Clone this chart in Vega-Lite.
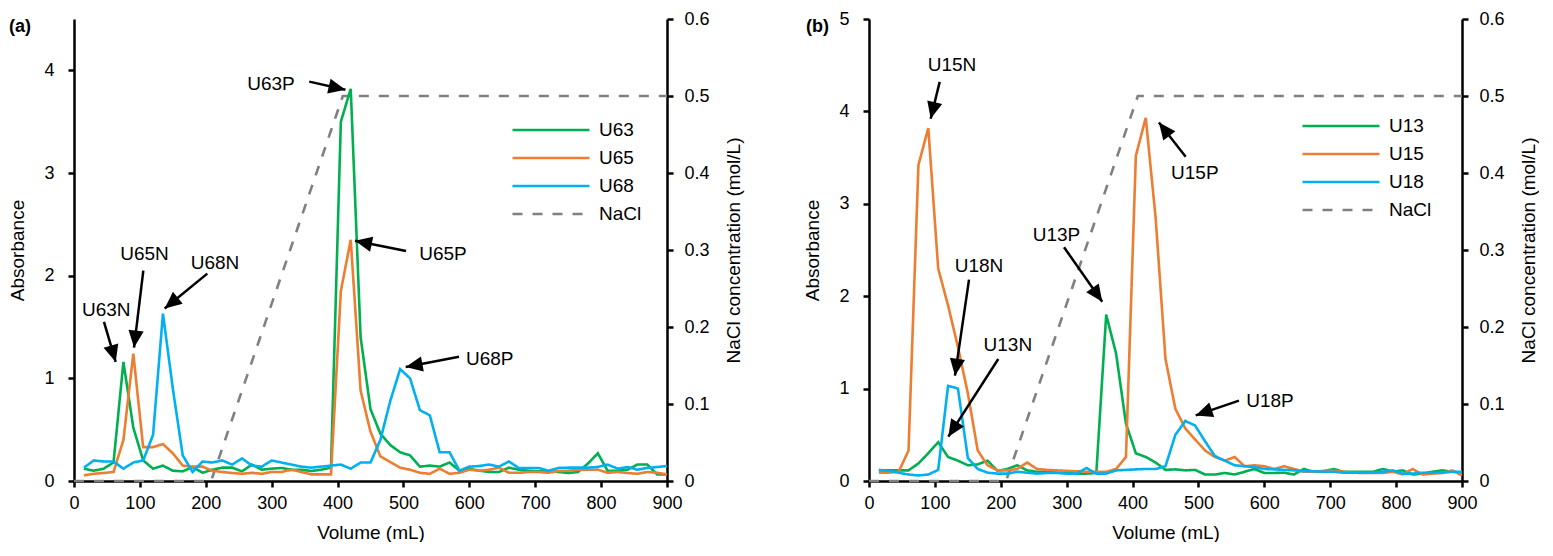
{
  "$schema": "https://vega.github.io/schema/vega-lite/v6.json",
  "background": "white",
  "padding": {"left": 8, "top": 10, "right": 0, "bottom": 0},
  "bounds": "flush",
  "spacing": 202,
  "config": {
    "font": "Liberation Sans",
    "view": {"stroke": null},
    "axis": {
      "grid": false, "domainColor": "black", "domainWidth": 2.5,
      "tickColor": "black", "tickWidth": 2.5, "tickSize": 6,
      "labelFontSize": 18, "labelColor": "black", "labelFlush": false,
      "titleFontSize": 19, "titleFontWeight": "normal", "titleColor": "black"
    },
    "axisX": {"labelPadding": 7, "titlePadding": 11},
    "axisLeft": {"labelPadding": 14, "titlePadding": 16},
    "axisRight": {"labelPadding": 11, "titlePadding": 15, "titleAngle": -90, "titleBaseline": "top"},
    "text": {"font": "Liberation Sans", "fontSize": 19, "color": "black"}
  },
  "datasets": {
    "a": [
      {"v": 15, "U63": 0.12, "U65": 0.055, "U68": 0.13},
      {"v": 30, "U63": 0.10, "U65": 0.07, "U68": 0.20},
      {"v": 45, "U63": 0.12, "U65": 0.078, "U68": 0.19},
      {"v": 60, "U63": 0.18, "U65": 0.088, "U68": 0.19},
      {"v": 75, "U63": 1.16, "U65": 0.40, "U68": 0.12},
      {"v": 90, "U63": 0.52, "U65": 1.24, "U68": 0.18},
      {"v": 105, "U63": 0.20, "U65": 0.33, "U68": 0.20},
      {"v": 120, "U63": 0.12, "U65": 0.33, "U68": 0.45},
      {"v": 135, "U63": 0.15, "U65": 0.36, "U68": 1.63},
      {"v": 150, "U63": 0.10, "U65": 0.27, "U68": 0.90},
      {"v": 165, "U63": 0.094, "U65": 0.15, "U68": 0.25},
      {"v": 180, "U63": 0.136, "U65": 0.14, "U68": 0.088},
      {"v": 195, "U63": 0.08, "U65": 0.14, "U68": 0.19},
      {"v": 210, "U63": 0.11, "U65": 0.10, "U68": 0.18},
      {"v": 225, "U63": 0.13, "U65": 0.088, "U68": 0.20},
      {"v": 240, "U63": 0.13, "U65": 0.078, "U68": 0.16},
      {"v": 255, "U63": 0.094, "U65": 0.07, "U68": 0.22},
      {"v": 270, "U63": 0.16, "U65": 0.08, "U68": 0.15},
      {"v": 285, "U63": 0.11, "U65": 0.07, "U68": 0.14},
      {"v": 300, "U63": 0.12, "U65": 0.088, "U68": 0.20},
      {"v": 315, "U63": 0.127, "U65": 0.088, "U68": 0.18},
      {"v": 330, "U63": 0.11, "U65": 0.11, "U68": 0.16},
      {"v": 345, "U63": 0.11, "U65": 0.088, "U68": 0.14},
      {"v": 360, "U63": 0.097, "U65": 0.065, "U68": 0.13},
      {"v": 375, "U63": 0.11, "U65": 0.065, "U68": 0.14},
      {"v": 390, "U63": 0.13, "U65": 0.065, "U68": 0.15},
      {"v": 405, "U63": 3.50, "U65": 1.85, "U68": 0.16},
      {"v": 420, "U63": 3.82, "U65": 2.35, "U68": 0.12},
      {"v": 435, "U63": 1.40, "U65": 0.88, "U68": 0.18},
      {"v": 450, "U63": 0.70, "U65": 0.48, "U68": 0.18},
      {"v": 465, "U63": 0.46, "U65": 0.24, "U68": 0.40},
      {"v": 480, "U63": 0.35, "U65": 0.185, "U68": 0.78},
      {"v": 495, "U63": 0.28, "U65": 0.13, "U68": 1.09},
      {"v": 510, "U63": 0.25, "U65": 0.11, "U68": 1.00},
      {"v": 525, "U63": 0.14, "U65": 0.08, "U68": 0.69},
      {"v": 540, "U63": 0.15, "U65": 0.07, "U68": 0.64},
      {"v": 555, "U63": 0.14, "U65": 0.12, "U68": 0.28},
      {"v": 570, "U63": 0.18, "U65": 0.07, "U68": 0.28},
      {"v": 585, "U63": 0.10, "U65": 0.08, "U68": 0.10},
      {"v": 600, "U63": 0.12, "U65": 0.11, "U68": 0.14},
      {"v": 615, "U63": 0.10, "U65": 0.10, "U68": 0.146},
      {"v": 630, "U63": 0.088, "U65": 0.11, "U68": 0.16},
      {"v": 645, "U63": 0.088, "U65": 0.13, "U68": 0.14},
      {"v": 660, "U63": 0.13, "U65": 0.08, "U68": 0.19},
      {"v": 675, "U63": 0.11, "U65": 0.08, "U68": 0.127},
      {"v": 690, "U63": 0.10, "U65": 0.088, "U68": 0.127},
      {"v": 705, "U63": 0.094, "U65": 0.088, "U68": 0.127},
      {"v": 720, "U63": 0.094, "U65": 0.08, "U68": 0.10},
      {"v": 735, "U63": 0.088, "U65": 0.097, "U68": 0.127},
      {"v": 750, "U63": 0.078, "U65": 0.10, "U68": 0.13},
      {"v": 765, "U63": 0.088, "U65": 0.11, "U68": 0.13},
      {"v": 780, "U63": 0.17, "U65": 0.11, "U68": 0.13},
      {"v": 795, "U63": 0.27, "U65": 0.11, "U68": 0.136},
      {"v": 810, "U63": 0.10, "U65": 0.08, "U68": 0.16},
      {"v": 825, "U63": 0.10, "U65": 0.088, "U68": 0.12},
      {"v": 840, "U63": 0.11, "U65": 0.078, "U68": 0.136},
      {"v": 855, "U63": 0.16, "U65": 0.07, "U68": 0.11},
      {"v": 870, "U63": 0.16, "U65": 0.088, "U68": 0.127},
      {"v": 885, "U63": 0.065, "U65": 0.08, "U68": 0.136},
      {"v": 900, "U63": 0.065, "U65": 0.065, "U68": 0.146}
    ],
    "b": [
      {"v": 15, "U13": 0.115, "U15": 0.09, "U18": 0.12},
      {"v": 30, "U13": 0.115, "U15": 0.09, "U18": 0.11},
      {"v": 45, "U13": 0.115, "U15": 0.10, "U18": 0.09},
      {"v": 60, "U13": 0.115, "U15": 0.33, "U18": 0.07},
      {"v": 75, "U13": 0.19, "U15": 3.42, "U18": 0.06},
      {"v": 90, "U13": 0.30, "U15": 3.82, "U18": 0.07},
      {"v": 105, "U13": 0.42, "U15": 2.30, "U18": 0.12},
      {"v": 120, "U13": 0.26, "U15": 1.90, "U18": 1.03},
      {"v": 135, "U13": 0.22, "U15": 1.45, "U18": 1.00},
      {"v": 150, "U13": 0.17, "U15": 0.95, "U18": 0.25},
      {"v": 165, "U13": 0.18, "U15": 0.33, "U18": 0.13},
      {"v": 180, "U13": 0.22, "U15": 0.17, "U18": 0.09},
      {"v": 195, "U13": 0.11, "U15": 0.115, "U18": 0.08},
      {"v": 210, "U13": 0.13, "U15": 0.115, "U18": 0.08},
      {"v": 225, "U13": 0.17, "U15": 0.13, "U18": 0.10},
      {"v": 240, "U13": 0.115, "U15": 0.20, "U18": 0.09},
      {"v": 255, "U13": 0.10, "U15": 0.13, "U18": 0.08},
      {"v": 270, "U13": 0.10, "U15": 0.12, "U18": 0.087},
      {"v": 285, "U13": 0.09, "U15": 0.115, "U18": 0.087},
      {"v": 300, "U13": 0.087, "U15": 0.11, "U18": 0.08},
      {"v": 315, "U13": 0.08, "U15": 0.105, "U18": 0.08},
      {"v": 330, "U13": 0.08, "U15": 0.10, "U18": 0.14},
      {"v": 345, "U13": 0.087, "U15": 0.10, "U18": 0.08},
      {"v": 360, "U13": 1.80, "U15": 0.10, "U18": 0.08},
      {"v": 375, "U13": 1.38, "U15": 0.13, "U18": 0.115},
      {"v": 390, "U13": 0.62, "U15": 0.26, "U18": 0.12},
      {"v": 405, "U13": 0.30, "U15": 3.52, "U18": 0.126},
      {"v": 420, "U13": 0.26, "U15": 3.93, "U18": 0.13},
      {"v": 435, "U13": 0.20, "U15": 2.85, "U18": 0.13},
      {"v": 450, "U13": 0.12, "U15": 1.32, "U18": 0.16},
      {"v": 465, "U13": 0.126, "U15": 0.78, "U18": 0.50},
      {"v": 480, "U13": 0.115, "U15": 0.57, "U18": 0.65},
      {"v": 495, "U13": 0.12, "U15": 0.45, "U18": 0.60},
      {"v": 510, "U13": 0.07, "U15": 0.33, "U18": 0.43},
      {"v": 525, "U13": 0.07, "U15": 0.26, "U18": 0.27},
      {"v": 540, "U13": 0.087, "U15": 0.22, "U18": 0.22},
      {"v": 555, "U13": 0.07, "U15": 0.26, "U18": 0.17},
      {"v": 570, "U13": 0.10, "U15": 0.16, "U18": 0.16},
      {"v": 585, "U13": 0.13, "U15": 0.17, "U18": 0.15},
      {"v": 600, "U13": 0.087, "U15": 0.16, "U18": 0.13},
      {"v": 615, "U13": 0.087, "U15": 0.13, "U18": 0.126},
      {"v": 630, "U13": 0.09, "U15": 0.16, "U18": 0.12},
      {"v": 645, "U13": 0.07, "U15": 0.13, "U18": 0.115},
      {"v": 660, "U13": 0.13, "U15": 0.10, "U18": 0.105},
      {"v": 675, "U13": 0.10, "U15": 0.10, "U18": 0.105},
      {"v": 690, "U13": 0.105, "U15": 0.11, "U18": 0.10},
      {"v": 705, "U13": 0.13, "U15": 0.11, "U18": 0.10},
      {"v": 720, "U13": 0.10, "U15": 0.10, "U18": 0.09},
      {"v": 735, "U13": 0.10, "U15": 0.09, "U18": 0.09},
      {"v": 750, "U13": 0.10, "U15": 0.087, "U18": 0.09},
      {"v": 765, "U13": 0.10, "U15": 0.087, "U18": 0.09},
      {"v": 780, "U13": 0.13, "U15": 0.087, "U18": 0.10},
      {"v": 795, "U13": 0.10, "U15": 0.10, "U18": 0.115},
      {"v": 810, "U13": 0.115, "U15": 0.072, "U18": 0.08},
      {"v": 825, "U13": 0.07, "U15": 0.13, "U18": 0.08},
      {"v": 840, "U13": 0.08, "U15": 0.07, "U18": 0.09},
      {"v": 855, "U13": 0.10, "U15": 0.08, "U18": 0.09},
      {"v": 870, "U13": 0.115, "U15": 0.087, "U18": 0.09},
      {"v": 885, "U13": 0.10, "U15": 0.115, "U18": 0.10},
      {"v": 900, "U13": 0.09, "U15": 0.06, "U18": 0.10}
    ],
    "nacl": [
      {"v": 0, "s": "NaCl", "c": 0},
      {"v": 208, "s": "NaCl", "c": 0},
      {"v": 408, "s": "NaCl", "c": 0.5},
      {"v": 900, "s": "NaCl", "c": 0.5}
    ],
    "annA": [
      {"lab": "U63N", "tx": 49, "ty": 1.67, "x1": 45.5, "y1": 1.55, "x2": 63.3, "y2": 1.16, "ang": 163.7},
      {"lab": "U65N", "tx": 107, "ty": 2.21, "x1": 105.2, "y1": 2.05, "x2": 91.1, "y2": 1.30, "ang": 186.9},
      {"lab": "U68N", "tx": 214, "ty": 2.12, "x1": 202.3, "y1": 2.02, "x2": 137.6, "y2": 1.68, "ang": 230.6},
      {"lab": "U63P", "tx": 299, "ty": 3.87, "x1": 357, "y1": 3.89, "x2": 412, "y2": 3.81, "ang": 102.7},
      {"lab": "U65P", "tx": 560, "ty": 2.21, "x1": 504, "y1": 2.24, "x2": 426.5, "y2": 2.34, "ang": 281.8},
      {"lab": "U68P", "tx": 631, "ty": 1.19, "x1": 584.3, "y1": 1.21, "x2": 503.4, "y2": 1.11, "ang": 259.4}
    ],
    "annB": [
      {"lab": "U15N", "tx": 126, "ty": 4.50, "x1": 107.3, "y1": 4.32, "x2": 93.6, "y2": 3.92, "ang": 193.8},
      {"lab": "U18N", "tx": 167, "ty": 2.33, "x1": 151.8, "y1": 2.18, "x2": 130.5, "y2": 1.14, "ang": 188.4},
      {"lab": "U13N", "tx": 210.7, "ty": 1.47, "x1": 196.2, "y1": 1.32, "x2": 120.4, "y2": 0.48, "ang": 212.8},
      {"lab": "U13P", "tx": 284.6, "ty": 2.66, "x1": 296, "y1": 2.53, "x2": 354, "y2": 1.94, "ang": 145.1},
      {"lab": "U15P", "tx": 494.5, "ty": 3.33, "x1": 480.6, "y1": 3.51, "x2": 440, "y2": 3.88, "ang": 322.1},
      {"lab": "U18P", "tx": 608.6, "ty": 0.866, "x1": 561.5, "y1": 0.87, "x2": 495.8, "y2": 0.71, "ang": 250.9}
    ],
    "tagA": [{"lab": "(a)", "tx": -98.6, "ty": 4.42}],
    "tagB": [{"lab": "(b)", "tx": -95.6, "ty": 4.91}]
  },
  "resolve": {"scale": {"color": "independent", "strokeDash": "independent"}},
  "hconcat": [
    {
      "width": 593,
      "height": 462,
      "resolve": {"scale": {"y": "independent"}},
      "layer": [
        {
          "data": {"name": "nacl"},
          "mark": {"type": "line", "strokeWidth": 2.6},
          "encoding": {
            "x": {"field": "v", "type": "quantitative", "scale": {"domain": [0, 900], "nice": false},
              "axis": {"title": "Volume (mL)", "values": [0, 100, 200, 300, 400, 500, 600, 700, 800, 900]}},
            "y": {"field": "c", "type": "quantitative", "scale": {"domain": [0, 0.6], "nice": false},
              "axis": {"orient": "right", "title": "NaCl concentration (mol/L)", "values": [0, 0.1, 0.2, 0.3, 0.4, 0.5, 0.6], "format": "~g"}},
            "color": {"field": "s", "type": "nominal",
              "scale": {"domain": ["U63", "U65", "U68", "NaCl"], "range": ["#00B050", "#ED7D31", "#00B0F0", "#808080"]},
              "legend": {"orient": "none", "legendX": 437, "legendY": 98, "title": null, "symbolType": "stroke", "symbolSize": 5929, "symbolStrokeWidth": 2.6, "clipHeight": 26, "rowPadding": 2, "labelFontSize": 19, "labelOffset": 8, "padding": 0, "labelColor": "black"}},
            "strokeDash": {"field": "s", "type": "nominal",
              "scale": {"domain": ["U63", "U65", "U68", "NaCl"], "range": [[1, 0], [1, 0], [1, 0], [10, 10]]},
              "legend": {"orient": "none", "legendX": 437, "legendY": 98, "title": null, "symbolType": "stroke", "symbolSize": 5929, "symbolStrokeWidth": 2.6, "clipHeight": 26, "rowPadding": 2, "labelFontSize": 19, "labelOffset": 8, "padding": 0, "labelColor": "black"}}
          }
        },
        {
          "layer": [
            {
              "data": {"name": "a"},
              "transform": [{"fold": ["U63", "U65", "U68"], "as": ["s", "A"]}],
              "mark": {"type": "line", "strokeWidth": 2.6},
              "encoding": {
                "x": {"field": "v", "type": "quantitative", "scale": {"domain": [0, 900], "nice": false},
                  "axis": {"title": "Volume (mL)", "values": [0, 100, 200, 300, 400, 500, 600, 700, 800, 900]}},
                "y": {"field": "A", "type": "quantitative", "scale": {"domain": [0, 4.5], "nice": false},
                  "axis": {"title": "Absorbance", "values": [0, 1, 2, 3, 4]}},
                "color": {"field": "s", "type": "nominal",
                  "scale": {"domain": ["U63", "U65", "U68", "NaCl"], "range": ["#00B050", "#ED7D31", "#00B0F0", "#808080"]},
                  "legend": {"orient": "none", "legendX": 437, "legendY": 98, "title": null, "symbolType": "stroke", "symbolSize": 5929, "symbolStrokeWidth": 2.6, "clipHeight": 26, "rowPadding": 2, "labelFontSize": 19, "labelOffset": 8, "padding": 0, "labelColor": "black"}},
                "strokeDash": {"field": "s", "type": "nominal",
                  "scale": {"domain": ["U63", "U65", "U68", "NaCl"], "range": [[1, 0], [1, 0], [1, 0], [10, 10]]},
                  "legend": {"orient": "none", "legendX": 437, "legendY": 98, "title": null, "symbolType": "stroke", "symbolSize": 5929, "symbolStrokeWidth": 2.6, "clipHeight": 26, "rowPadding": 2, "labelFontSize": 19, "labelOffset": 8, "padding": 0, "labelColor": "black"}}
              }
            },
            {
              "data": {"name": "annA"},
              "mark": {"type": "rule", "strokeWidth": 2.5, "color": "black"},
              "encoding": {
                "x": {"field": "x1", "type": "quantitative", "scale": {"domain": [0, 900], "nice": false},
                  "axis": {"title": "Volume (mL)", "values": [0, 100, 200, 300, 400, 500, 600, 700, 800, 900]}},
                "y": {"field": "y1", "type": "quantitative", "scale": {"domain": [0, 4.5], "nice": false},
                  "axis": {"title": "Absorbance", "values": [0, 1, 2, 3, 4]}},
                "x2": {"field": "x2"},
                "y2": {"field": "y2"}
              }
            },
            {
              "data": {"name": "annA"},
              "mark": {"type": "point", "shape": "M0,0L0.9,2L-0.9,2Z", "filled": true, "color": "black", "opacity": 1, "size": 289},
              "encoding": {
                "x": {"field": "x2", "type": "quantitative", "scale": {"domain": [0, 900], "nice": false},
                  "axis": {"title": "Volume (mL)", "values": [0, 100, 200, 300, 400, 500, 600, 700, 800, 900]}},
                "y": {"field": "y2", "type": "quantitative", "scale": {"domain": [0, 4.5], "nice": false},
                  "axis": {"title": "Absorbance", "values": [0, 1, 2, 3, 4]}},
                "angle": {"field": "ang", "type": "quantitative", "scale": null}
              }
            },
            {
              "data": {"name": "annA"},
              "mark": {"type": "text", "fontSize": 19, "align": "center", "baseline": "middle"},
              "encoding": {
                "x": {"field": "tx", "type": "quantitative", "scale": {"domain": [0, 900], "nice": false},
                  "axis": {"title": "Volume (mL)", "values": [0, 100, 200, 300, 400, 500, 600, 700, 800, 900]}},
                "y": {"field": "ty", "type": "quantitative", "scale": {"domain": [0, 4.5], "nice": false},
                  "axis": {"title": "Absorbance", "values": [0, 1, 2, 3, 4]}},
                "text": {"field": "lab"}
              }
            },
            {
              "data": {"name": "tagA"},
              "mark": {"type": "text", "fontSize": 18, "fontWeight": "bold", "align": "left", "baseline": "middle"},
              "encoding": {
                "x": {"field": "tx", "type": "quantitative", "scale": {"domain": [0, 900], "nice": false},
                  "axis": {"title": "Volume (mL)", "values": [0, 100, 200, 300, 400, 500, 600, 700, 800, 900]}},
                "y": {"field": "ty", "type": "quantitative", "scale": {"domain": [0, 4.5], "nice": false},
                  "axis": {"title": "Absorbance", "values": [0, 1, 2, 3, 4]}},
                "text": {"field": "lab"}
              }
            }
          ]
        }
      ]
    },
    {
      "width": 593,
      "height": 462,
      "resolve": {"scale": {"y": "independent"}},
      "layer": [
        {
          "data": {"name": "nacl"},
          "mark": {"type": "line", "strokeWidth": 2.6},
          "encoding": {
            "x": {"field": "v", "type": "quantitative", "scale": {"domain": [0, 900], "nice": false},
              "axis": {"title": "Volume (mL)", "values": [0, 100, 200, 300, 400, 500, 600, 700, 800, 900]}},
            "y": {"field": "c", "type": "quantitative", "scale": {"domain": [0, 0.6], "nice": false},
              "axis": {"orient": "right", "title": "NaCl concentration (mol/L)", "values": [0, 0.1, 0.2, 0.3, 0.4, 0.5, 0.6], "format": "~g"}},
            "color": {"field": "s", "type": "nominal",
              "scale": {"domain": ["U13", "U15", "U18", "NaCl"], "range": ["#00B050", "#ED7D31", "#00B0F0", "#808080"]},
              "legend": {"orient": "none", "legendX": 432, "legendY": 94, "title": null, "symbolType": "stroke", "symbolSize": 5929, "symbolStrokeWidth": 2.6, "clipHeight": 26, "rowPadding": 2, "labelFontSize": 19, "labelOffset": 8, "padding": 0, "labelColor": "black"}},
            "strokeDash": {"field": "s", "type": "nominal",
              "scale": {"domain": ["U13", "U15", "U18", "NaCl"], "range": [[1, 0], [1, 0], [1, 0], [10, 10]]},
              "legend": {"orient": "none", "legendX": 432, "legendY": 94, "title": null, "symbolType": "stroke", "symbolSize": 5929, "symbolStrokeWidth": 2.6, "clipHeight": 26, "rowPadding": 2, "labelFontSize": 19, "labelOffset": 8, "padding": 0, "labelColor": "black"}}
          }
        },
        {
          "layer": [
            {
              "data": {"name": "b"},
              "transform": [{"fold": ["U13", "U15", "U18"], "as": ["s", "A"]}],
              "mark": {"type": "line", "strokeWidth": 2.6},
              "encoding": {
                "x": {"field": "v", "type": "quantitative", "scale": {"domain": [0, 900], "nice": false},
                  "axis": {"title": "Volume (mL)", "values": [0, 100, 200, 300, 400, 500, 600, 700, 800, 900]}},
                "y": {"field": "A", "type": "quantitative", "scale": {"domain": [0, 5], "nice": false},
                  "axis": {"title": "Absorbance", "values": [0, 1, 2, 3, 4, 5]}},
                "color": {"field": "s", "type": "nominal",
                  "scale": {"domain": ["U13", "U15", "U18", "NaCl"], "range": ["#00B050", "#ED7D31", "#00B0F0", "#808080"]},
                  "legend": {"orient": "none", "legendX": 432, "legendY": 94, "title": null, "symbolType": "stroke", "symbolSize": 5929, "symbolStrokeWidth": 2.6, "clipHeight": 26, "rowPadding": 2, "labelFontSize": 19, "labelOffset": 8, "padding": 0, "labelColor": "black"}},
                "strokeDash": {"field": "s", "type": "nominal",
                  "scale": {"domain": ["U13", "U15", "U18", "NaCl"], "range": [[1, 0], [1, 0], [1, 0], [10, 10]]},
                  "legend": {"orient": "none", "legendX": 432, "legendY": 94, "title": null, "symbolType": "stroke", "symbolSize": 5929, "symbolStrokeWidth": 2.6, "clipHeight": 26, "rowPadding": 2, "labelFontSize": 19, "labelOffset": 8, "padding": 0, "labelColor": "black"}}
              }
            },
            {
              "data": {"name": "annB"},
              "mark": {"type": "rule", "strokeWidth": 2.5, "color": "black"},
              "encoding": {
                "x": {"field": "x1", "type": "quantitative", "scale": {"domain": [0, 900], "nice": false},
                  "axis": {"title": "Volume (mL)", "values": [0, 100, 200, 300, 400, 500, 600, 700, 800, 900]}},
                "y": {"field": "y1", "type": "quantitative", "scale": {"domain": [0, 5], "nice": false},
                  "axis": {"title": "Absorbance", "values": [0, 1, 2, 3, 4, 5]}},
                "x2": {"field": "x2"},
                "y2": {"field": "y2"}
              }
            },
            {
              "data": {"name": "annB"},
              "mark": {"type": "point", "shape": "M0,0L0.9,2L-0.9,2Z", "filled": true, "color": "black", "opacity": 1, "size": 289},
              "encoding": {
                "x": {"field": "x2", "type": "quantitative", "scale": {"domain": [0, 900], "nice": false},
                  "axis": {"title": "Volume (mL)", "values": [0, 100, 200, 300, 400, 500, 600, 700, 800, 900]}},
                "y": {"field": "y2", "type": "quantitative", "scale": {"domain": [0, 5], "nice": false},
                  "axis": {"title": "Absorbance", "values": [0, 1, 2, 3, 4, 5]}},
                "angle": {"field": "ang", "type": "quantitative", "scale": null}
              }
            },
            {
              "data": {"name": "annB"},
              "mark": {"type": "text", "fontSize": 19, "align": "center", "baseline": "middle"},
              "encoding": {
                "x": {"field": "tx", "type": "quantitative", "scale": {"domain": [0, 900], "nice": false},
                  "axis": {"title": "Volume (mL)", "values": [0, 100, 200, 300, 400, 500, 600, 700, 800, 900]}},
                "y": {"field": "ty", "type": "quantitative", "scale": {"domain": [0, 5], "nice": false},
                  "axis": {"title": "Absorbance", "values": [0, 1, 2, 3, 4, 5]}},
                "text": {"field": "lab"}
              }
            },
            {
              "data": {"name": "tagB"},
              "mark": {"type": "text", "fontSize": 18, "fontWeight": "bold", "align": "left", "baseline": "middle"},
              "encoding": {
                "x": {"field": "tx", "type": "quantitative", "scale": {"domain": [0, 900], "nice": false},
                  "axis": {"title": "Volume (mL)", "values": [0, 100, 200, 300, 400, 500, 600, 700, 800, 900]}},
                "y": {"field": "ty", "type": "quantitative", "scale": {"domain": [0, 5], "nice": false},
                  "axis": {"title": "Absorbance", "values": [0, 1, 2, 3, 4, 5]}},
                "text": {"field": "lab"}
              }
            }
          ]
        }
      ]
    }
  ]
}
